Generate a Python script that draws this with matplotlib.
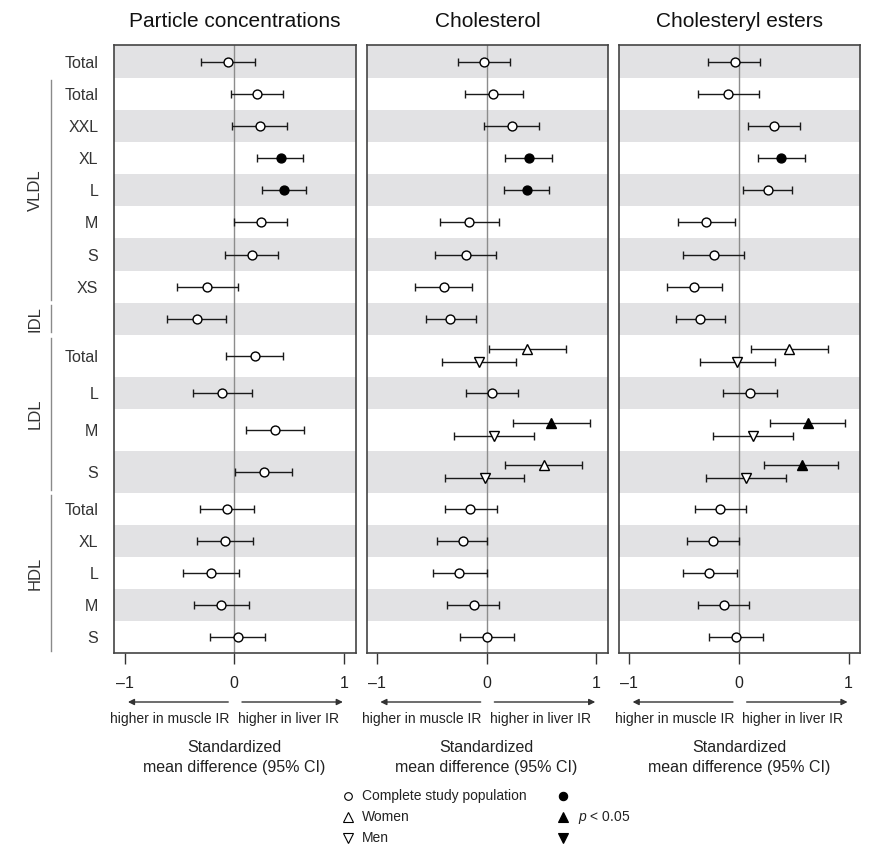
import numpy as np
import matplotlib
matplotlib.use("Agg")
import matplotlib.pyplot as plt
from matplotlib import transforms
from matplotlib.lines import Line2D

plt.rcParams['font.family'] = ['Liberation Sans', 'DejaVu Sans']
plt.rcParams['mathtext.fontset'] = 'custom'
plt.rcParams['mathtext.it'] = 'Liberation Sans:italic'
plt.rcParams['mathtext.rm'] = 'Liberation Sans'

# ---- rows -------------------------------------------------------------
row_labels = ["Total", "Total", "XXL", "XL", "L", "M", "S", "XS", "",
              "Total", "L", "M", "S",
              "Total", "XL", "L", "M", "S"]
groups = [("VLDL", 1, 8), ("IDL", 8, 9), ("LDL", 9, 13), ("HDL", 13, 18)]
sex_rows = [9, 11, 12]          # rows reported separately for women and men

titles = ["Particle concentrations", "Cholesterol", "Cholesteryl esters"]
nan = np.nan

# ---- complete study population ----------------------------------------
pc_est = [-0.055, 0.21, 0.23, 0.43, 0.45, 0.24, 0.16, -0.245, -0.34,
          0.185, -0.11, 0.37, 0.27, -0.065, -0.085, -0.215, -0.12, 0.03]
pc_lo = [-0.30, -0.03, -0.025, 0.21, 0.25, 0.0, -0.085, -0.52, -0.61,
         -0.075, -0.375, 0.11, 0.005, -0.31, -0.34, -0.465, -0.365, -0.225]
pc_hi = [0.19, 0.445, 0.48, 0.63, 0.65, 0.48, 0.40, 0.03, -0.075,
         0.445, 0.16, 0.64, 0.53, 0.18, 0.17, 0.04, 0.13, 0.28]
pc_sig = [0, 0, 0, 1, 1, 0, 0, 0, 0, 0, 0, 0, 0, 0, 0, 0, 0, 0]

ch_est = [-0.027, 0.06, 0.23, 0.385, 0.365, -0.16, -0.19, -0.39, -0.33,
          nan, 0.048, nan, nan, -0.15, -0.22, -0.25, -0.12, 0.003]
ch_lo = [-0.26, -0.20, -0.02, 0.17, 0.16, -0.43, -0.47, -0.65, -0.55,
         nan, -0.19, nan, nan, -0.38, -0.45, -0.49, -0.36, -0.24]
ch_hi = [0.21, 0.33, 0.48, 0.60, 0.57, 0.115, 0.085, -0.13, -0.10,
         nan, 0.29, nan, nan, 0.09, 0.006, 0.0, 0.11, 0.245]
ch_sig = [0, 0, 0, 1, 1, 0, 0, 0, 0, 0, 0, 0, 0, 0, 0, 0, 0, 0]

ce_est = [-0.04, -0.10, 0.32, 0.38, 0.26, -0.30, -0.23, -0.41, -0.36,
          nan, 0.10, nan, nan, -0.17, -0.235, -0.27, -0.14, -0.024]
ce_lo = [-0.28, -0.375, 0.08, 0.17, 0.04, -0.555, -0.51, -0.66, -0.575,
         nan, -0.145, nan, nan, -0.40, -0.47, -0.51, -0.37, -0.27]
ce_hi = [0.19, 0.185, 0.56, 0.60, 0.485, -0.036, 0.05, -0.155, -0.13,
         nan, 0.35, nan, nan, 0.064, 0.0, -0.018, 0.09, 0.22]
ce_sig = [0, 0, 0, 1, 0, 0, 0, 0, 0, 0, 0, 0, 0, 0, 0, 0, 0, 0]

# ---- women / men (rows in sex_rows) -----------------------------------
ch_w_est = [0.37, 0.59, 0.52]
ch_w_lo = [0.024, 0.24, 0.17]
ch_w_hi = [0.72, 0.94, 0.87]
ch_w_sig = [0, 1, 0]
ch_m_est = [-0.07, 0.064, -0.018]
ch_m_lo = [-0.41, -0.30, -0.38]
ch_m_hi = [0.27, 0.43, 0.34]
ch_m_sig = [0, 0, 0]

ce_w_est = [0.46, 0.63, 0.57]
ce_w_lo = [0.11, 0.28, 0.23]
ce_w_hi = [0.81, 0.97, 0.90]
ce_w_sig = [0, 1, 1]
ce_m_est = [-0.015, 0.125, 0.064]
ce_m_lo = [-0.36, -0.24, -0.30]
ce_m_hi = [0.33, 0.49, 0.43]
ce_m_sig = [0, 0, 0]

panels = [
    dict(all=(pc_est, pc_lo, pc_hi, pc_sig), women=None, men=None),
    dict(all=(ch_est, ch_lo, ch_hi, ch_sig),
         women=(ch_w_est, ch_w_lo, ch_w_hi, ch_w_sig),
         men=(ch_m_est, ch_m_lo, ch_m_hi, ch_m_sig)),
    dict(all=(ce_est, ce_lo, ce_hi, ce_sig),
         women=(ce_w_est, ce_w_lo, ce_w_hi, ce_w_sig),
         men=(ce_m_est, ce_m_lo, ce_m_hi, ce_m_sig)),
]

# ---- layout -----------------------------------------------------------
W, H = 870, 847
fig = plt.figure(figsize=(W / 100, H / 100), dpi=100)


def fx(px):
    return px / W


def fy(py):
    return 1 - py / H


n = len(row_labels)
heights = np.array([1.3 if i in sex_rows else 1.0 for i in range(n)])
edges = np.concatenate([[0], np.cumsum(heights)])
centers = (edges[:-1] + edges[1:]) / 2
total = edges[-1]
offset = 0.2

panel_left = [114.3, 366.7, 619.0]
panel_w = 241.4
top_px, bot_px = 45.5, 653.3

band_col = "#e2e2e4"
ink = "#1a1a1a"
txt = "#222222"


def draw_series(ax, est, lo, hi, sig, ys, marker, ms):
    est = np.asarray(est, float)
    lo = np.asarray(lo, float)
    hi = np.asarray(hi, float)
    sig = np.asarray(sig, bool)
    ys = np.asarray(ys, float)
    ok = ~np.isnan(est)
    est, lo, hi, sig, ys = est[ok], lo[ok], hi[ok], sig[ok], ys[ok]
    ax.errorbar(est, ys, xerr=[est - lo, hi - est], fmt="none",
                ecolor=ink, elinewidth=1.0, capsize=2.8, capthick=1.0,
                zorder=2)
    ax.plot(est[~sig], ys[~sig], ls="none", marker=marker, ms=ms,
            mfc="white", mec="black", mew=1.0, zorder=3)
    ax.plot(est[sig], ys[sig], ls="none", marker=marker, ms=ms,
            mfc="black", mec="black", mew=1.0, zorder=3)


axes = []
for k, panel in enumerate(panels):
    ax = fig.add_axes([fx(panel_left[k]), fy(bot_px),
                       panel_w / W, (bot_px - top_px) / H])
    axes.append(ax)
    ax.set_xlim(-1.094, 1.107)
    ax.set_ylim(total, 0)
    for i in range(0, n, 2):
        ax.axhspan(edges[i], edges[i + 1], color=band_col, lw=0, zorder=0)
    ax.axvline(0, color="#8c8c8c", lw=1.0, zorder=1)

    draw_series(ax, *panel["all"], centers, "o", 6.4)
    sex_y = centers[sex_rows]
    if panel["women"] is not None:
        draw_series(ax, *panel["women"], sex_y - offset, "^", 7.2)
    if panel["men"] is not None:
        draw_series(ax, *panel["men"], sex_y + offset, "v", 7.2)

    for s in ax.spines.values():
        s.set_color("#444444")
        s.set_linewidth(1.2)

    ax.set_xticks([-1, 0, 1])
    ax.set_xticklabels(["\u20131", "0", "1"])
    ax.tick_params(axis="x", length=7.7, width=1.0, color="#333333",
                   pad=9, labelsize=11.5, labelcolor=txt)
    if k == 0:
        ax.set_yticks(centers)
        ax.set_yticklabels(row_labels)
        ax.tick_params(axis="y", length=0, pad=11.5, labelsize=11.5,
                       labelcolor="#333333")
    else:
        ax.set_yticks([])

    ax.set_title(titles[k], fontsize=15, pad=13.3, color="#111111")

    # direction arrows and axis caption
    blend = transforms.blended_transform_factory(ax.transData, fig.transFigure)
    arrow_kw = dict(arrowstyle="-|>", color="#333333", lw=1.0,
                    mutation_scale=9, shrinkA=0, shrinkB=0)
    ax.annotate("", xy=(-0.97, fy(702)), xytext=(-0.055, fy(702)),
                xycoords=blend, textcoords=blend, arrowprops=arrow_kw,
                annotation_clip=False)
    ax.annotate("", xy=(0.99, fy(702)), xytext=(0.07, fy(702)),
                xycoords=blend, textcoords=blend, arrowprops=arrow_kw,
                annotation_clip=False)
    ax.text(-0.045, fy(719), "higher in muscle IR", transform=blend,
            ha="right", va="center", fontsize=10, color=txt)
    ax.text(0.03, fy(719), "higher in liver IR", transform=blend,
            ha="left", va="center", fontsize=10, color=txt)
    ax.text(0.0, fy(747), "Standardized", transform=blend,
            ha="center", va="center", fontsize=11.5, color=txt)
    ax.text(0.0, fy(767), "mean difference (95% CI)", transform=blend,
            ha="center", va="center", fontsize=11.5, color=txt)

# ---- lipoprotein class brackets ---------------------------------------
ax0 = axes[0]
gblend = transforms.blended_transform_factory(fig.transFigure, ax0.transData)
for name, r0, r1 in groups:
    y0, y1 = edges[r0] + 0.08, edges[r1] - 0.08
    ax0.add_line(Line2D([fx(50.7), fx(50.7)], [y0, y1], transform=gblend,
                        color="#8a8a8a", lw=1.0, clip_on=False))
    ax0.text(fx(35), (y0 + y1) / 2, name, transform=gblend, rotation=90,
             ha="center", va="center", fontsize=12, color="#333333",
             clip_on=False)

# ---- key --------------------------------------------------------------
key_rows = [(796, "o", 5.5, "Complete study population"),
            (817, "^", 7.0, "Women"),
            (838, "v", 7.0, "Men")]
for ypx, mk, size, label in key_rows:
    fig.add_artist(Line2D([fx(348)], [fy(ypx)], transform=fig.transFigure,
                          ls="none", marker=mk, ms=size, mfc="white",
                          mec="black", mew=0.8))
    fig.add_artist(Line2D([fx(563)], [fy(ypx)], transform=fig.transFigure,
                          ls="none", marker=mk, ms=size + 0.5, mfc="black",
                          mec="black", mew=0.8))
    fig.text(fx(362), fy(ypx), label, ha="left", va="center",
             fontsize=10, color=txt)
fig.text(fx(578), fy(817), "$p$ < 0.05", ha="left", va="center",
         fontsize=10, color=txt)

fig.savefig("out.png", dpi=100)
